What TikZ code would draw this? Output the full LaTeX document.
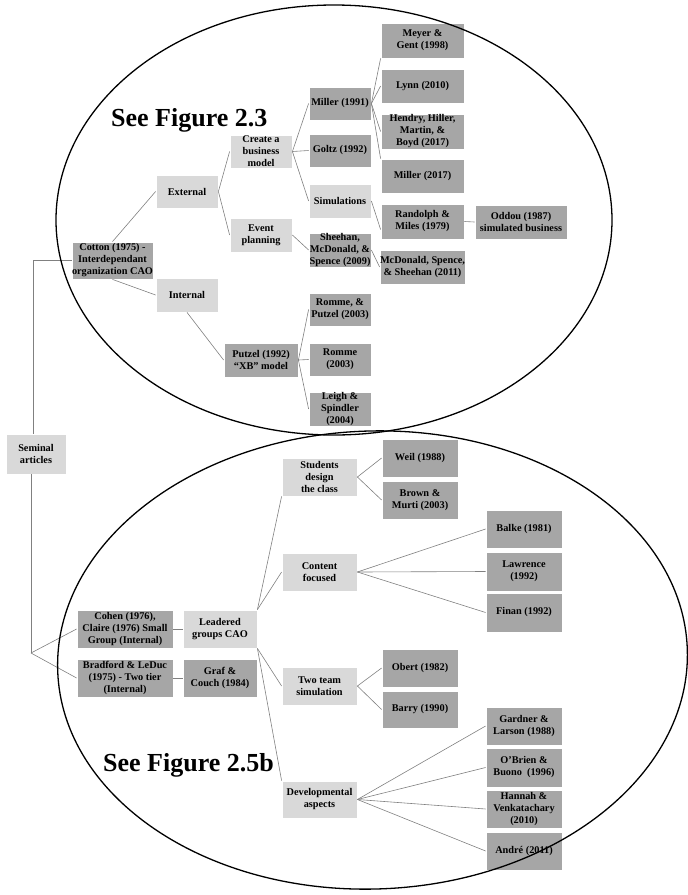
\documentclass[tikz,border=0pt]{standalone}
\usepackage{fontspec}
\setmainfont{Liberation Serif}
\begin{document}
\begin{tikzpicture}[x=1pt,y=-1pt,
  box/.style={draw=white,line width=0.8pt,align=center,inner sep=0pt,
    font=\fontsize{10.3}{12}\selectfont\bfseries,text=black},
  lbox/.style={box,fill=boxlight},
  dbox/.style={box,fill=boxdark},
  link/.style={draw=linkgray,line width=0.6pt},
  oval/.style={draw=black,line width=1.3pt},
  bigtext/.style={font=\fontsize{26}{30}\selectfont\bfseries,anchor=base west,inner sep=0pt}]
\definecolor{boxlight}{HTML}{D9D9D9}
\definecolor{boxdark}{HTML}{A6A6A6}
\definecolor{linkgray}{HTML}{808080}
\useasboundingbox (0,0) rectangle (688,895);

% ---------- upper tree ----------
\node[lbox,minimum width=60,minimum height=40] (seminal) at (36,454) {Seminal\\articles};
\node[dbox,minimum width=81,minimum height=37] (cotton) at (112.5,260.5) {Cotton (1975) -\\Interdependant\\organization CAO};
\node[lbox,minimum width=62,minimum height=33] (external) at (187,191.5) {External};
\node[lbox,minimum width=62,minimum height=34] (internal) at (187,295) {Internal};
\node[lbox,minimum width=62,minimum height=33] (create) at (261,151.5) {Create a\\business\\model};
\node[lbox,minimum width=62,minimum height=34] (event) at (261,235) {Event\\planning};
\node[dbox,minimum width=62,minimum height=33] (miller91) at (340,103.5) {Miller (1991)};
\node[dbox,minimum width=62,minimum height=33] (goltz) at (340,150.5) {Goltz (1992)};
\node[lbox,minimum width=62,minimum height=34] (simul) at (340,201) {Simulations};
\node[dbox,minimum width=62,minimum height=34] (sheehan) at (340,250) {Sheehan,\\McDonald, \&\\Spence (2009)};
\node[dbox,minimum width=74,minimum height=34] (putzel) at (261,360) {Putzel (1992)\\“XB” model};
\node[dbox,minimum width=62,minimum height=33] (rommeputzel) at (340,309.5) {Romme, \&\\Putzel (2003)};
\node[dbox,minimum width=62,minimum height=33] (romme) at (340,359.5) {Romme\\(2003)};
\node[dbox,minimum width=62,minimum height=34] (leigh) at (340,409) {Leigh \&\\Spindler\\(2004)};
\node[dbox,minimum width=83,minimum height=35] (meyer) at (422.5,40.5) {Meyer \&\\Gent (1998)};
\node[dbox,minimum width=83,minimum height=34] (lynn) at (422.5,86) {Lynn (2010)};
\node[dbox,minimum width=83,minimum height=35] (hendry) at (422.5,131.5) {Hendry, Hiller,\\Martin, \&\\Boyd (2017)};
\node[dbox,minimum width=83,minimum height=34] (miller17) at (422.5,176) {Miller (2017)};
\node[dbox,minimum width=83,minimum height=35] (randolph) at (422.5,221.5) {Randolph \&\\Miles (1979)};
\node[dbox,minimum width=83,minimum height=34] (mcdonald) at (422.5,267) {McDonald, Spence,\\\& Sheehan (2011)};
\node[dbox,minimum width=92,minimum height=34] (oddou) at (521,222) {Oddou (1987)\\simulated business};

% ---------- lower tree ----------
\node[dbox,minimum width=96,minimum height=38] (cohen) at (125,629) {Cohen (1976),\\Claire (1976) Small\\Group (Internal)};
\node[dbox,minimum width=96,minimum height=38] (bradford) at (125,678) {Bradford \& LeDuc\\(1975) - Two tier\\(Internal)};
\node[lbox,minimum width=74,minimum height=38] (leadered) at (220,629) {Leadered\\groups CAO};
\node[dbox,minimum width=74,minimum height=38] (graf) at (220,678) {Graf \&\\Couch (1984)};
\node[lbox,minimum width=75,minimum height=38] (students) at (319.5,477) {Students\\design\\the class};
\node[lbox,minimum width=75,minimum height=38] (content) at (319.5,572) {Content\\focused};
\node[lbox,minimum width=75,minimum height=38] (twoteam) at (319.5,686) {Two team\\simulation};
\node[lbox,minimum width=75,minimum height=37] (develop) at (319.5,799.5) {Developmental\\aspects};
\node[dbox,minimum width=76,minimum height=38] (weil) at (420,458) {Weil (1988)};
\node[dbox,minimum width=76,minimum height=38] (brown) at (420,500) {Brown \&\\Murti (2003)};
\node[dbox,minimum width=76,minimum height=38] (balke) at (524,529) {Balke (1981)};
\node[dbox,minimum width=76,minimum height=39] (lawrence) at (524,571.5) {Lawrence\\(1992)};
\node[dbox,minimum width=76,minimum height=39] (finan) at (524,612.5) {Finan (1992)};
\node[dbox,minimum width=76,minimum height=38] (obert) at (420,668) {Obert (1982)};
\node[dbox,minimum width=76,minimum height=37] (barry) at (420,709.5) {Barry (1990)};
\node[dbox,minimum width=76,minimum height=38] (gardner) at (524,726) {Gardner \&\\Larson (1988)};
\node[dbox,minimum width=76,minimum height=39] (obrien) at (524,767.5) {O’Brien \&\\Buono~~(1996)};
\node[dbox,minimum width=76,minimum height=38] (hannah) at (524,809) {Hannah \&\\Venkatachary\\(2010)};
\node[dbox,minimum width=76,minimum height=38] (andre) at (524,851) {André (2011)};

% ---------- connectors ----------
\coordinate (split) at (31,653);
\draw[link] ([xshift=-3pt]seminal.north) |- (cotton.west);
\draw[link] ([xshift=-5pt]seminal.south) -- (split);
\draw[link] (split) -- (cohen.west);
\draw[link] (split) -- (bradford.west);

\draw[link] (cotton.north) -- (external.west);
\draw[link] (cotton.south) -- (internal.west);
\draw[link] (external.east) -- (create.west);
\draw[link] (external.east) -- (event.west);
\draw[link] (create.east) -- (miller91.west);
\draw[link] (create.east) -- (goltz.west);
\draw[link] (create.east) -- (simul.west);
\draw[link] (event.east) -- (sheehan.west);
\draw[link] (internal.south) -- (putzel.west);
\draw[link] (putzel.east) -- (rommeputzel.west);
\draw[link] (putzel.east) -- (romme.west);
\draw[link] (putzel.east) -- (leigh.west);
\draw[link] (miller91.east) -- (meyer.south west);
\draw[link] (miller91.east) -- (lynn.west);
\draw[link] (miller91.east) -- (hendry.west);
\draw[link] (miller91.east) -- (miller17.north west);
\draw[link] (simul.east) -- ([yshift=-8pt]randolph.west);
\draw[link] (randolph.east) -- (oddou.west);
\draw[link] (sheehan.east) -- (mcdonald.west);

\draw[link] (cohen.east) -- (leadered.west);
\draw[link] (bradford.east) -- (graf.west);
\draw[link] (leadered.north east) -- (students.south west);
\draw[link] (leadered.north east) -- (content.west);
\draw[link] (leadered.south east) -- (twoteam.west);
\draw[link] (leadered.south east) -- (develop.north west);
\draw[link] (students.east) -- (weil.west);
\draw[link] (students.east) -- (brown.west);
\draw[link] (content.east) -- (balke.west);
\draw[link] (content.east) -- (lawrence.west);
\draw[link] (content.east) -- (finan.west);
\draw[link] (twoteam.east) -- (obert.west);
\draw[link] (twoteam.east) -- (barry.west);
\draw[link] (develop.east) -- (gardner.west);
\draw[link] (develop.east) -- (obrien.west);
\draw[link] (develop.east) -- (hannah.west);
\draw[link] (develop.east) -- (andre.west);

% ---------- labels and outlines ----------
\node[bigtext] (fig23) at (111,126) {See Figure 2.3};
\node[bigtext] (fig25) at (103,771) {See Figure 2.5b};
\draw[oval] (334,220) ellipse [x radius=278,y radius=215];
\draw[oval,rotate around={2:(372.5,660)}] (372.5,660) ellipse [x radius=315,y radius=229];
\end{tikzpicture}
\end{document}
